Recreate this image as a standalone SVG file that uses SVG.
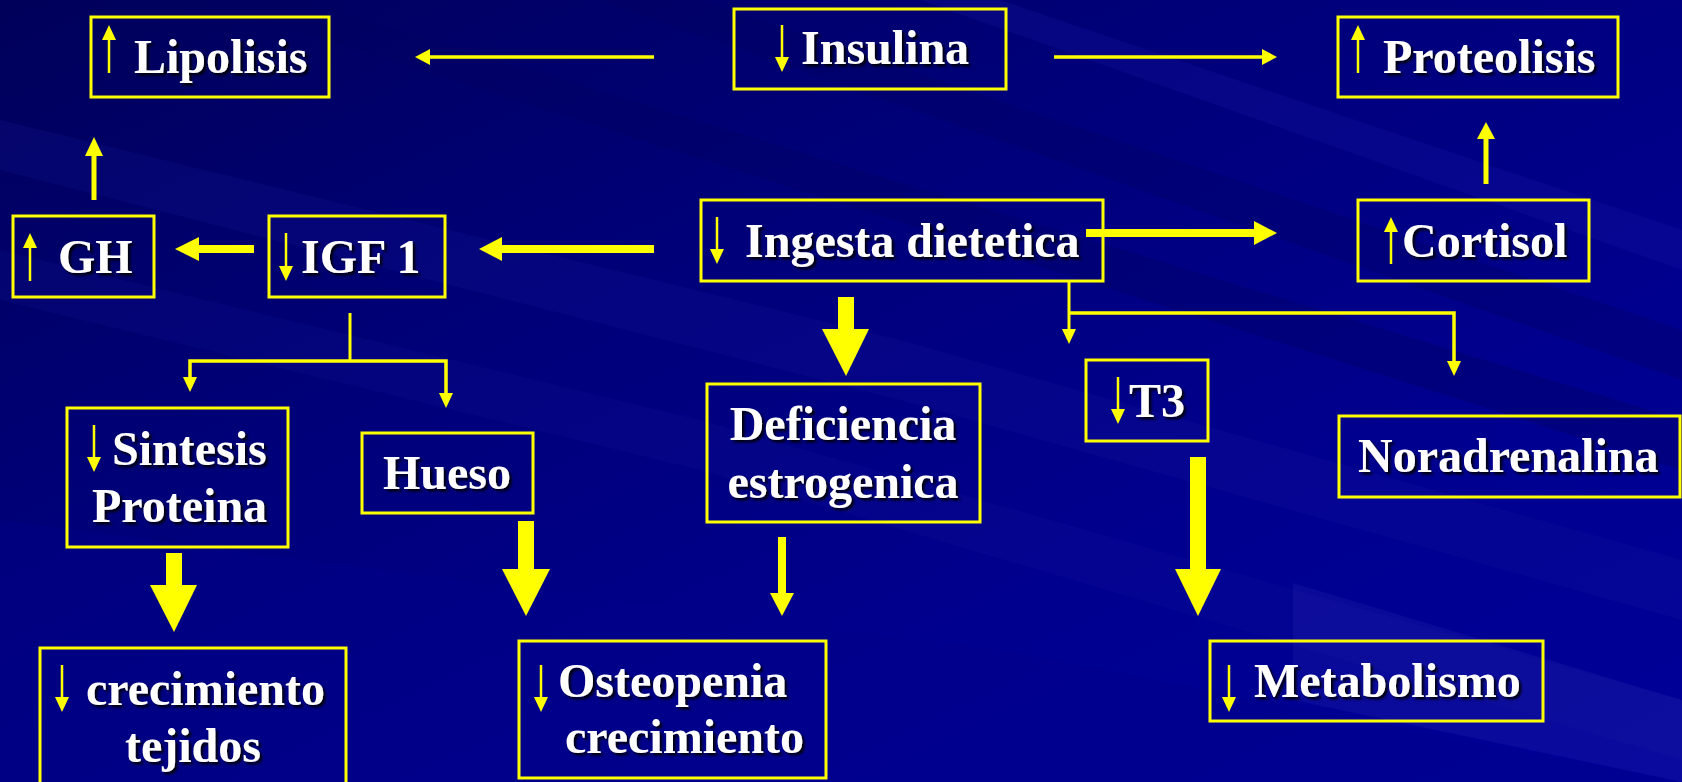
<svg xmlns="http://www.w3.org/2000/svg" width="1682" height="782" viewBox="0 0 1682 782">
<defs>
<linearGradient id="bg" x1="0" y1="0" x2="1" y2="1">
<stop offset="0" stop-color="#00005a"/>
<stop offset="0.35" stop-color="#000078"/>
<stop offset="0.7" stop-color="#00008f"/>
<stop offset="1" stop-color="#000098"/>
</linearGradient>
<filter id="sh" x="-10%" y="-20%" width="130%" height="150%">
<feDropShadow dx="2.5" dy="2.5" stdDeviation="1.2" flood-color="#000000" flood-opacity="0.9"/>
</filter>
<marker id="sm" markerWidth="10" markerHeight="10" refX="0" refY="0" orient="auto"/>
</defs>
<style>
.box{fill:none;stroke:#ffff00;stroke-width:3}
.t{font-family:"Liberation Serif","Times New Roman",serif;font-weight:bold;font-size:48px;fill:#ffffff;filter:url(#sh)}
.ln{stroke:#ffff00;fill:none}
.ah{fill:#ffff00}
.g{stroke:#ffff00;stroke-width:2.5}
</style>
<g id="background">
<rect x="0" y="0" width="1682" height="782" fill="url(#bg)"/>
<polygon points="0,120 900,340 1682,560 1682,620 900,400 0,170" fill="#1a1aa0" opacity="0.18"/>
<polygon points="0,250 700,420 1682,700 1682,760 700,470 0,300" fill="#1a1aa0" opacity="0.15"/>
<polygon points="300,0 1682,420 1682,470 200,0" fill="#000060" opacity="0.35"/>
<polygon points="700,0 1682,330 1682,380 600,0" fill="#000060" opacity="0.3"/>
<polygon points="1000,0 1682,230 1682,270 920,0" fill="#2020b0" opacity="0.2"/>
<polygon points="0,520 1000,650 1682,782 0,782" fill="#00008a" opacity="0.4"/>
<polygon points="1293,583 1682,700 1682,782 1293,700" fill="#2828b0" opacity="0.25"/>
</g>
<g id="connectors">
<line class="ln" x1="654" y1="57" x2="428" y2="57" stroke-width="3.5"/>
<polygon class="ah" points="415,57 430,49 430,65"/>
<line class="ln" x1="1054" y1="57" x2="1264" y2="57" stroke-width="3.5"/>
<polygon class="ah" points="1277,57 1262,49 1262,65"/>
<line class="ln" x1="94" y1="200" x2="94" y2="154" stroke-width="5"/>
<polygon class="ah" points="94,137 85,156 103,156"/>
<line class="ln" x1="1486" y1="184" x2="1486" y2="137" stroke-width="5"/>
<polygon class="ah" points="1486,122 1477,139 1495,139"/>
<rect class="ah" x="197" y="245" width="57" height="8"/>
<polygon class="ah" points="175,249 199,237 199,261"/>
<rect class="ah" x="500" y="245" width="154" height="8"/>
<polygon class="ah" points="479,249 502,237 502,261"/>
<rect class="ah" x="1086" y="229" width="170" height="8"/>
<polygon class="ah" points="1277,233 1254,221 1254,245"/>
<rect class="ah" x="838" y="297" width="16" height="33"/>
<polygon class="ah" points="822,329 869,329 846,376"/>
<polyline class="ln" points="1069,281 1069,331" stroke-width="3"/>
<polygon class="ah" points="1062,329 1076,329 1069,344"/>
<polyline class="ln" points="1069,313 1454,313 1454,363" stroke-width="3.5"/>
<polygon class="ah" points="1447,361 1461,361 1454,376"/>
<polyline class="ln" points="350,313 350,361" stroke-width="3"/>
<polyline class="ln" points="190,379 190,361 446,361 446,395" stroke-width="3.5"/>
<polygon class="ah" points="183,377 197,377 190,392"/>
<polygon class="ah" points="439,393 453,393 446,408"/>
<rect class="ah" x="166" y="553" width="16" height="33"/>
<polygon class="ah" points="150,585 197,585 174,632"/>
<rect class="ah" x="518" y="521" width="16" height="49"/>
<polygon class="ah" points="502,569 550,569 526,616"/>
<rect class="ah" x="778" y="537" width="8" height="57"/>
<polygon class="ah" points="770,593 794,593 782,616"/>
<rect class="ah" x="1190" y="457" width="16" height="113"/>
<polygon class="ah" points="1175,569 1221,569 1198,616"/>
</g>
<g id="lipolisis">
<rect class="box" x="91" y="17" width="238" height="80"/>
<line class="g" x1="109" y1="38" x2="109" y2="73"/><polygon class="ah" points="109,25 102,40 116,40"/>
<text class="t" x="134" y="73">Lipolisis</text>
</g>
<g id="insulina">
<rect class="box" x="734" y="9" width="272" height="80"/>
<line class="g" x1="782" y1="25" x2="782" y2="60"/><polygon class="ah" points="782,72 775,57 789,57"/>
<text class="t" x="801" y="64">Insulina</text>
</g>
<g id="proteolisis">
<rect class="box" x="1338" y="17" width="280" height="80"/>
<line class="g" x1="1358" y1="38" x2="1358" y2="73"/><polygon class="ah" points="1358,25 1351,40 1365,40"/>
<text class="t" x="1383" y="73">Proteolisis</text>
</g>
<g id="gh">
<rect class="box" x="13" y="216" width="141" height="81"/>
<line class="g" x1="30" y1="245" x2="30" y2="281"/><polygon class="ah" points="30,233 23,248 37,248"/>
<text class="t" x="58" y="273">GH</text>
</g>
<g id="igf1">
<rect class="box" x="269" y="216" width="176" height="81"/>
<line class="g" x1="286" y1="233" x2="286" y2="269"/><polygon class="ah" points="286,281 279,266 293,266"/>
<text class="t" x="301" y="273">IGF 1</text>
</g>
<g id="ingesta">
<rect class="box" x="701" y="200" width="402" height="81"/>
<line class="g" x1="717" y1="217" x2="717" y2="252"/><polygon class="ah" points="717,264 710,249 724,249"/>
<text class="t" x="745" y="257">Ingesta dietetica</text>
</g>
<g id="cortisol">
<rect class="box" x="1358" y="200" width="231" height="81"/>
<line class="g" x1="1391" y1="229" x2="1391" y2="264"/><polygon class="ah" points="1391,217 1384,232 1398,232"/>
<text class="t" x="1402" y="257">Cortisol</text>
</g>
<g id="sintesis">
<rect class="box" x="67" y="408" width="221" height="139"/>
<line class="g" x1="94" y1="425" x2="94" y2="460"/><polygon class="ah" points="94,472 87,457 101,457"/>
<text class="t" x="112" y="465">Sintesis</text>
<text class="t" x="92" y="522">Proteina</text>
</g>
<g id="hueso">
<rect class="box" x="362" y="433" width="171" height="80"/>
<text class="t" x="383" y="489">Hueso</text>
</g>
<g id="deficiencia">
<rect class="box" x="707" y="384" width="273" height="138"/>
<text class="t" x="843" y="440" text-anchor="middle">Deficiencia</text>
<text class="t" x="843" y="498" text-anchor="middle">estrogenica</text>
</g>
<g id="t3">
<rect class="box" x="1086" y="360" width="122" height="81"/>
<line class="g" x1="1118" y1="377" x2="1118" y2="412"/><polygon class="ah" points="1118,424 1111,409 1125,409"/>
<text class="t" x="1129" y="417">T3</text>
</g>
<g id="noradrenalina">
<rect class="box" x="1339" y="416" width="341" height="81"/>
<text class="t" x="1358" y="472">Noradrenalina</text>
</g>
<g id="crecimiento-tejidos">
<rect class="box" x="40" y="648" width="306" height="142"/>
<line class="g" x1="62" y1="665" x2="62" y2="700"/><polygon class="ah" points="62,712 55,697 69,697"/>
<text class="t" x="86" y="705">crecimiento</text>
<text class="t" x="193" y="762" text-anchor="middle">tejidos</text>
</g>
<g id="osteopenia">
<rect class="box" x="519" y="641" width="307" height="137"/>
<line class="g" x1="541" y1="665" x2="541" y2="700"/><polygon class="ah" points="541,712 534,697 548,697"/>
<text class="t" x="558" y="697">Osteopenia</text>
<text class="t" x="565" y="753">crecimiento</text>
</g>
<g id="metabolismo">
<rect class="box" x="1210" y="641" width="333" height="80"/>
<line class="g" x1="1229" y1="665" x2="1229" y2="700"/><polygon class="ah" points="1229,712 1222,697 1236,697"/>
<text class="t" x="1254" y="697">Metabolismo</text>
</g>
</svg>
